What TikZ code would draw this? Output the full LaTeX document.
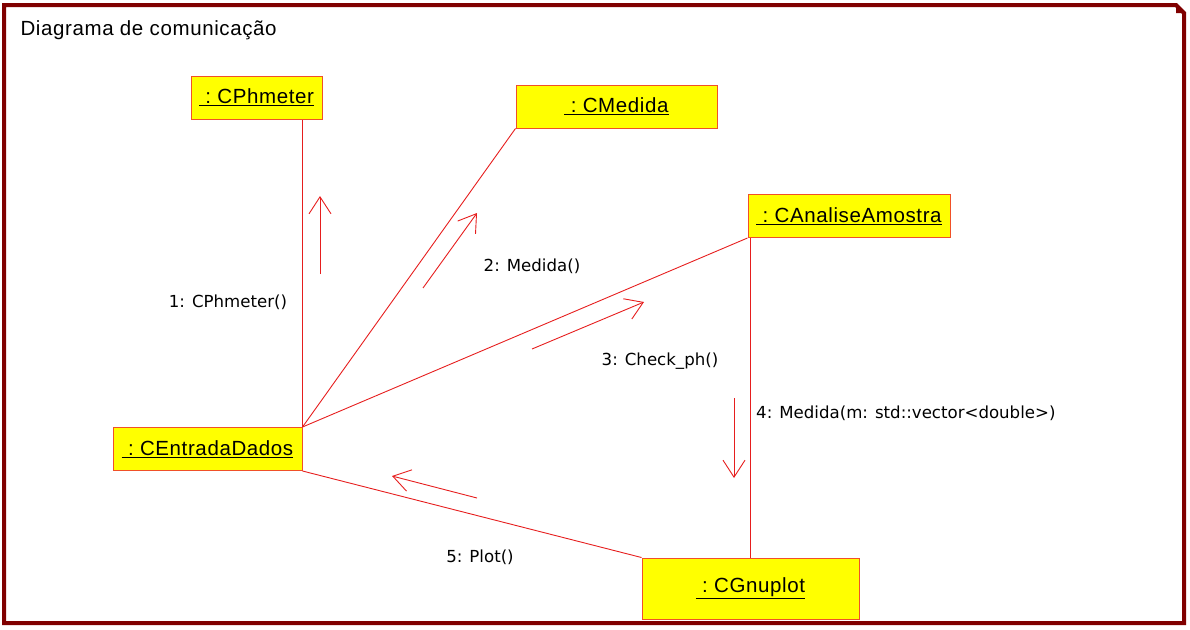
\documentclass[tikz,border=0pt]{standalone}
\usepackage{fontspec}
\setmainfont{Liberation Sans}[LetterSpace=3]
\newfontfamily\msgfont{DejaVu Sans}
\usetikzlibrary{arrows.meta}

\definecolor{framered}{RGB}{128,0,0}
\definecolor{linkred}{RGB}{230,30,30}
\definecolor{boxred}{RGB}{240,80,40}
\definecolor{boxyellow}{RGB}{255,255,0}

\begin{document}
\begin{tikzpicture}[x=1pt, y=-1pt,
		obj/.style = {draw = boxred, fill = boxyellow, line width = 1pt,
			minimum width = #1, minimum height = 43pt, inner sep = 0pt,
			font = \fontsize{20.5}{24}\selectfont},
		link/.style = {draw = linkred, line width = 0.9pt},
		msg/.style = {draw = linkred, line width = 0.9pt,
			-{Straight Barb[length = 17pt, width = 22pt, line width = 0.9pt]}},
		lbl/.style = {font = \msgfont\fontsize{16.6}{20}\selectfont, inner sep = 0pt}]
		\useasboundingbox (0,0) rectangle (1190,629);
		% frame with folded corner
		\draw [framered, line width = 4pt]
			(4,623) -- (4,5) -- (1176,5) -- (1184,13) -- (1184,623) -- cycle;
		\fill [framered] (1176,5) -- (1176,13) -- (1184,13) -- cycle;
		\node [anchor = west, font = \fontsize{20.5}{24}\selectfont] (title) at (17,30)
			{Diagrama de comunicação};
		% objects
		\node [obj = 131pt] (phmeter) at (256.5,97.5) {\underline{\ :\ CPhmeter}};
		\node [obj = 201pt] (medida) at (616.5,106.5) {\underline{\ :\ CMedida}};
		\node [obj = 202pt] (analise) at (849,216) {\underline{\ :\ CAnaliseAmostra}};
		\node [obj = 189pt] (entrada) at (207.5,449) {\underline{\ :\ CEntradaDados}};
		\node [obj = 217pt, minimum height = 61pt] (gnuplot) at (750.5,588.5)
			{\underline{\ :\ CGnuplot}};
		% links
		\draw [link] (entrada.north east) -- (entrada.north east |- phmeter.south);
		\draw [link] (entrada.north east) -- (medida.south west);
		\draw [link] (entrada.north east) -- (analise.south west);
		\draw [link] (analise.south west -| gnuplot.north) -- (gnuplot.north);
		\draw [link] (entrada.south east) -- (gnuplot.north west);
		% messages
		\coordinate (m1a) at (320,274);
		\coordinate (m1b) at (320,196);
		\coordinate (m2a) at (423,288);
		\coordinate (m2b) at (477,213);
		\coordinate (m3a) at (532,349);
		\coordinate (m3b) at (644,302);
		\coordinate (m4a) at (734,398);
		\coordinate (m4b) at (734,478);
		\coordinate (m5a) at (477,498);
		\coordinate (m5b) at (392,476);
		\draw [msg] (m1a) -- (m1b);
		\draw [msg] (m2a) -- (m2b);
		\draw [msg] (m3a) -- (m3b);
		\draw [msg] (m4a) -- (m4b);
		\draw [msg] (m5a) -- (m5b);
		\node [lbl] (l1) at (228,302) {1: CPhmeter()};
		\node [lbl] (l2) at (532,266) {2: Medida()};
		\node [lbl] (l3) at (660,361) {3: Check\_ph()};
		\node [lbl, anchor = west] (l4) at (756,413) {4: Medida(m: std::vector<double>)};
		\node [lbl] (l5) at (480,557) {5: Plot()};
	\end{tikzpicture}
\end{document}
